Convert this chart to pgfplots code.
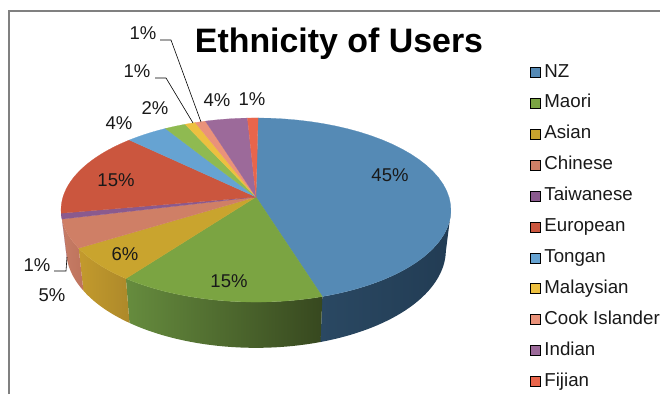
\documentclass[border=0pt]{standalone}
\usepackage{fontspec}
\setmainfont{Liberation Sans}
\usepackage{pgfplots}
\usepackage{pgfplotstable}
\pgfplotsset{compat=1.18}

% Share of users per group, in drawing order, clockwise from the top of the pie
\pgfplotstableread{
row share
0 45
1 15
2 6
3 5
4 1
5 15
6 4
7 2
8 1
9 1
10 4
11 1
}\usershares

% Top face colours
\definecolor{top0}{HTML}{558AB5}
\definecolor{top1}{HTML}{7BA442}
\definecolor{top2}{HTML}{C9A42E}
\definecolor{top3}{HTML}{CF7F66}
\definecolor{top4}{HTML}{8A5A8E}
\definecolor{top5}{HTML}{CB563E}
\definecolor{top6}{HTML}{66A3D2}
\definecolor{top7}{HTML}{8FBA51}
\definecolor{top8}{HTML}{EDC040}
\definecolor{top9}{HTML}{EA927A}
\definecolor{top10}{HTML}{9C6A9A}
\definecolor{top11}{HTML}{E9654B}
% Side wall colours, left and right ends of each gradient
\definecolor{wallL0}{HTML}{2A4862}\definecolor{wallR0}{HTML}{223C54}
\definecolor{wallL1}{HTML}{668C3E}\definecolor{wallR1}{HTML}{37481F}
\definecolor{wallL2}{HTML}{C39A2D}\definecolor{wallR2}{HTML}{AD892A}
\definecolor{wallL3}{HTML}{C67C66}\definecolor{wallR3}{HTML}{BE735C}
\definecolor{wallL4}{HTML}{7A4F7E}\definecolor{wallR4}{HTML}{7A4F7E}

% Perspective projection of the pie's upper and lower rims, angle clockwise from the back
\pgfkeys{/pgf/declare function={
  topx(\t)=256+193*sin(\t)/(1+0.1413*cos(\t));
  topy(\t)=197-90.2*cos(\t)/(1+0.1413*cos(\t));
  botx(\t)=256+188*sin(\t)/(1+0.14*cos(\t));
  boty(\t)=236.2-96*cos(\t)/(1+0.14*cos(\t));
}}

% Appends rim points of plane #1 between angles #2 and #3 to \pts
\newcommand\appendrim[3]{%
  \pgfmathsetmacro\da{(#3-#2)/36}%
  \foreach \k in {0,...,36}{%
    \pgfmathsetmacro\ang{#2+\k*\da}%
    \pgfmathsetmacro\px{#1x(\ang)}%
    \pgfmathsetmacro\py{#1y(\ang)}%
    \xdef\pts{\pts (\px,\py)}%
  }%
}
\newcommand\rot{0.7}
\newcommand\lab[3]{\node[font=\fontsize{18.5}{22}\selectfont, text=black!90, inner sep=0pt] at (axis cs:#1,#2) {#3\%};}

\begin{document}
\begin{tikzpicture}
\useasboundingbox (0,0) rectangle (660pt,394pt);
\begin{axis}[
  at={(0,0)}, anchor=south west,
  width=660pt, height=394pt, scale only axis,
  xmin=0, xmax=660, ymin=0, ymax=394, y dir=reverse,
  hide axis, clip=true,
  legend image code/.code={\fill[#1] (0pt,1.6pt) rectangle (10pt,11.6pt);},
  legend cell align=left,
  legend style={
    at={(530/660,1-63.5/394)}, anchor=north west, draw=none, fill=none,
    inner sep=0pt, outer sep=0pt,
    font=\fontsize{18.7}{22}\selectfont,
    text=black!90,
    nodes={inner sep=0pt, text height=13.5pt, text depth=17.4pt},
    column sep=4pt,
  },
]
% Chart frame
\addplot[forget plot, draw=black!50, line width=1.1pt] coordinates {(9,394) (9,11) (660,11)};

% Side walls of the front half, between the two points where the rim turns back
\xdef\cum{0}
\foreach \r in {0,...,4}{
  \pgfplotstablegetelem{\r}{share}\of\usershares
  \pgfmathsetmacro\aone{max(3.6*\cum+\rot,99)}
  \pgfmathsetmacro\newcum{\cum+\pgfplotsretval}
  \pgfmathsetmacro\atwo{min(3.6*\newcum+\rot,260)}
  \xdef\cum{\newcum}
  \gdef\pts{}
  \appendrim{top}{\aone}{\atwo}
  \appendrim{bot}{\atwo}{\aone}
  \edef\doplot{\noexpand\addplot[forget plot, draw=none, left color=wallL\r, right color=wallR\r] coordinates {\pts} --cycle;}
  \doplot
}

% Top faces
\xdef\cum{0}
\foreach \r in {0,...,11}{
  \pgfplotstablegetelem{\r}{share}\of\usershares
  \pgfmathsetmacro\aone{3.6*\cum+\rot}
  \pgfmathsetmacro\newcum{\cum+\pgfplotsretval}
  \pgfmathsetmacro\atwo{3.6*\newcum+\rot}
  \xdef\cum{\newcum}
  \gdef\pts{(256,197)}
  \appendrim{top}{\aone}{\atwo}
  \edef\doplot{\noexpand\addplot[forget plot, draw=top\r, line width=0.2pt, fill=top\r] coordinates {\pts} --cycle;}
  \doplot
}

% Leader lines
\addplot[forget plot, black, line width=0.6pt] coordinates {(160,40) (171,40) (201,122)};
\addplot[forget plot, black, line width=0.6pt] coordinates {(155,78) (166,78) (193,123)};
\addplot[forget plot, black, line width=0.6pt] coordinates {(54,271) (66,271) (67,257)};

% Percentage labels
\lab{390}{175}{45}
\lab{229}{281}{15}
\lab{125}{254}{6}
\lab{52}{295}{5}
\lab{37}{265}{1}
\lab{116}{180}{15}
\lab{119}{123}{4}
\lab{155}{108}{2}
\lab{137}{71}{1}
\lab{143}{33}{1}
\lab{217}{100}{4}
\lab{252}{99}{1}

% Title
\node[font=\bfseries\fontsize{33.9}{40}\selectfont, text=black, anchor=base, inner sep=0pt] at (axis cs:339,52) {Ethnicity of Users};

% Legend
\addlegendimage{fill=top0}
\addlegendimage{fill=top1}
\addlegendimage{fill=top2}
\addlegendimage{fill=top3}
\addlegendimage{fill=top4}
\addlegendimage{fill=top5}
\addlegendimage{fill=top6}
\addlegendimage{fill=top8}
\addlegendimage{fill=top9}
\addlegendimage{fill=top10}
\addlegendimage{fill=top11}
\legend{NZ,Maori,Asian,Chinese,Taiwanese,European,Tongan,Malaysian,Cook Islander,Indian,Fijian}
\end{axis}
\end{tikzpicture}
\end{document}
